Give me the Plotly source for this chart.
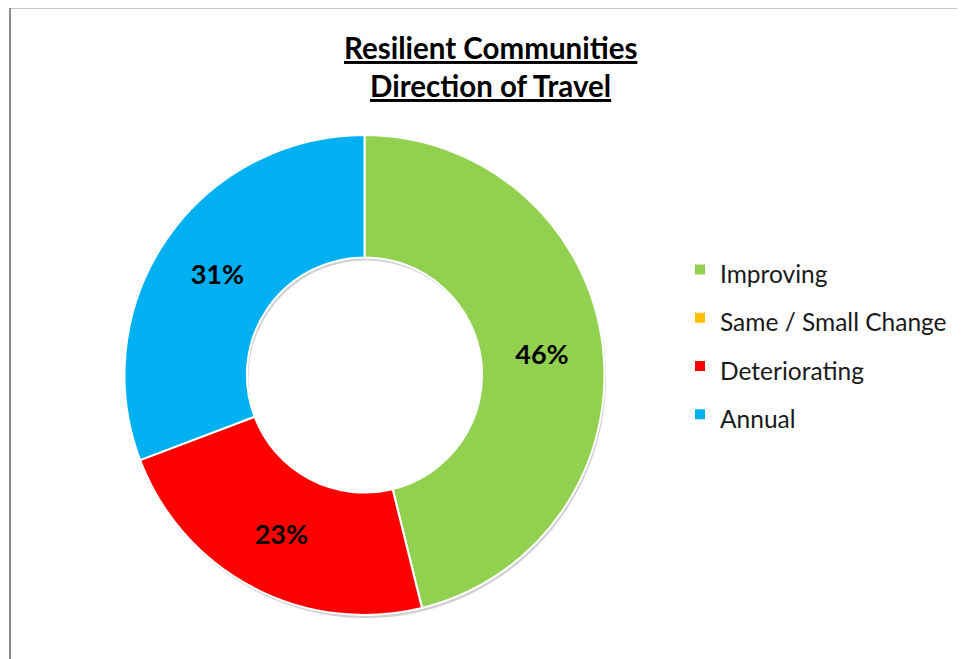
import plotly.graph_objects as go

categories = ["Improving", "Same / Small Change", "Deteriorating", "Annual"]
values = [6, 0, 3, 4]
colors = ["#92D050", "#FFC000", "#FF0000", "#00B0F0"]
title_lines = ["Resilient Communities", "Direction of Travel"]

W, H = 965, 659
OFF = 8  # page body margin
cx, cy, R = 364.5, 375, 240


def px_x(x):
    return (x - OFF) / W


def px_y(y):
    return 1 - (y - OFF) / H


FONT = "Lato"
LEG_TEXT = 24.5

fig = go.Figure()

# soft drop shadow behind the ring
fig.add_trace(go.Pie(
    labels=["shadow"], values=[1], hole=0.49, sort=False,
    domain=dict(x=[px_x(cx - R + 1.5), px_x(cx + R + 1.5)], y=[px_y(cy + R + 3), px_y(cy - R + 3)]),
    marker=dict(colors=["rgba(0,0,0,0.18)"], line=dict(width=0)),
    textinfo="none", hoverinfo="skip", showlegend=False,
))

legend_labels = [f'<span style="font-size:{LEG_TEXT}px">{c}</span>' for c in categories]

fig.add_trace(go.Pie(
    labels=legend_labels, values=values, hole=0.49, sort=False,
    direction="clockwise", rotation=0,
    domain=dict(x=[px_x(cx - R), px_x(cx + R)], y=[px_y(cy + R), px_y(cy - R)]),
    marker=dict(colors=colors, line=dict(color="white", width=2)),
    texttemplate=["<b>%{percent:.0%}</b>" if v > 0 else "" for v in values],
    textposition="inside", insidetextorientation="horizontal",
    textfont=dict(family=FONT, size=27, color="black"),
    hoverinfo="label+percent",
    showlegend=True,
))

leg_font = 34.8
fig.update_layout(
    width=W, height=H,
    margin=dict(l=0, r=0, t=0, b=0, pad=0, autoexpand=False),
    paper_bgcolor="white", plot_bgcolor="white",
    showlegend=True,
    legend=dict(
        x=px_x(680), xanchor="left", y=px_y(342), yanchor="middle",
        font=dict(family=FONT, size=leg_font, color="#1a1a1a"),
        bgcolor="rgba(0,0,0,0)", itemclick=False,
    ),
    font=dict(family=FONT),
)

annots = []
for line, y in zip(title_lines, [47, 86]):
    annots.append(dict(
        text=f"<b><u>{line}</u></b>", x=px_x(490), y=px_y(y), xref="paper", yref="paper",
        xanchor="center", yanchor="middle", showarrow=False,
        font=dict(family=FONT, size=29.5, color="black"),
    ))
fig.update_layout(annotations=annots)

fig.add_shape(type="rect", xref="paper", yref="paper",
              x0=px_x(10), x1=1.2, y0=-0.2, y1=px_y(7.5),
              line=dict(color="#8c8c8c", width=2), fillcolor="rgba(0,0,0,0)", layer="above")

fig.write_html("out.html")
